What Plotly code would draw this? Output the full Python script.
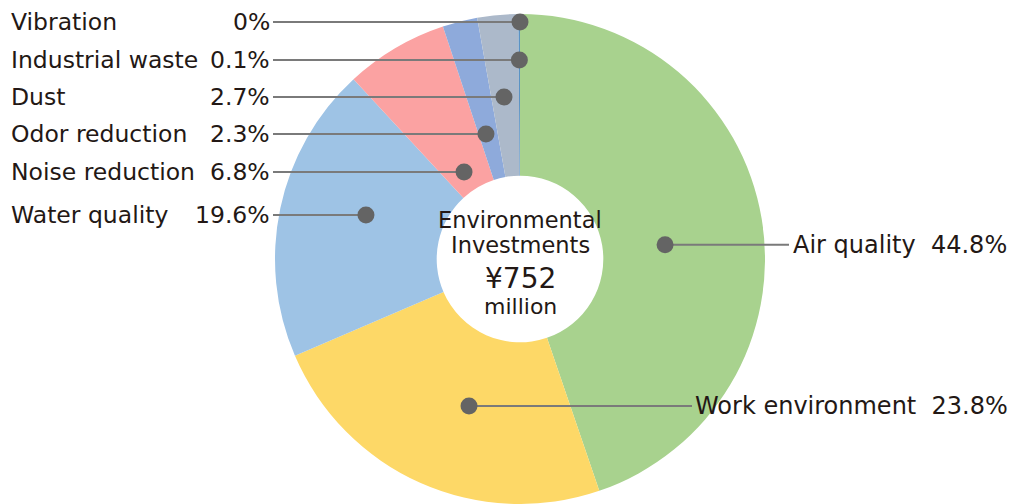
import math
import plotly.graph_objects as go

# ---------------- data ----------------
categories = ["Air quality", "Work environment", "Water quality", "Noise reduction",
              "Odor reduction", "Dust", "Industrial waste", "Vibration"]
shares = [44.8, 23.8, 19.6, 6.8, 2.3, 2.7, 0.1, 0]
colors = ["#A8D28E", "#FDD867", "#9EC3E5", "#FBA2A2", "#8EAADB", "#ACB9CA", "#5B93C4", "#5B93C4"]
center_lines = ["Environmental", "Investments", "¥752", "million"]

# ---------------- layout / style ----------------
W, H = 1014, 504
CX, CY, R = 520, 259, 245          # pie centre & radius in pixels
HOLE = 0.34
FONT = "DejaVu Sans"
TXT = "#231815"
LINE_C = "#7A7A7A"
DOT_C = "#646464"
DOT_R = 8.5

# where the leader dot sits: fraction across the slice's angle, fraction of radius
dot_frac = [0.524, 0.444, 0.557, 0.41, 0.377, 0.456, 0.5, 0.5]
dot_rad = [0.595, 0.635, 0.654, 0.422, 0.529, 0.664, 0.812, 0.967]
side = ["right", "right", "left", "left", "left", "left", "left", "left"]
right_label_x = {0: 791, 1: 693}
right_line_end = {0: 789, 1: 692}
LEFT_NAME_X, LEFT_PCT_X, LEFT_LINE_X = 9, 272, 273
LEFT_SIZE, RIGHT_SIZE = 23.5, 24

fig = go.Figure()
fig.add_trace(go.Pie(
    labels=categories, values=shares, sort=False, direction="clockwise", rotation=0,
    hole=HOLE, textinfo="none", hoverinfo="skip", showlegend=False,
    marker=dict(colors=colors, line=dict(width=0)),
    domain=dict(x=[(CX - R) / W, (CX + R) / W], y=[(H - CY - R) / H, (H - CY + R) / H]),
))

total = sum(shares)
px = lambda x: x / W
py = lambda y: 1 - y / H

shapes, annotations = [], []
cum = 0.0
dots = []
for i, (name, v) in enumerate(zip(categories, shares)):
    a0 = cum / total * 360
    cum += v
    a1 = cum / total * 360
    ang = math.radians(a0 + dot_frac[i] * (a1 - a0))
    r = dot_rad[i] * R
    dx = CX + r * math.sin(ang)
    dy = CY - r * math.cos(ang)
    pct = f"{v:g}%"
    if side[i] == "left":
        shapes.append(dict(type="line", xref="paper", yref="paper",
                           x0=px(LEFT_LINE_X), x1=px(dx), y0=py(dy), y1=py(dy),
                           line=dict(color=LINE_C, width=2)))
        annotations.append(dict(x=px(LEFT_NAME_X), y=py(dy), xref="paper", yref="paper",
                                text=name, showarrow=False, xanchor="left", yanchor="middle",
                                font=dict(family=FONT, size=LEFT_SIZE, color=TXT)))
        annotations.append(dict(x=px(LEFT_PCT_X), y=py(dy), xref="paper", yref="paper",
                                text=pct, showarrow=False, xanchor="right", yanchor="middle",
                                font=dict(family=FONT, size=LEFT_SIZE, color=TXT)))
    else:
        shapes.append(dict(type="line", xref="paper", yref="paper",
                           x0=px(dx), x1=px(right_line_end[i]), y0=py(dy), y1=py(dy),
                           line=dict(color=LINE_C, width=2)))
        annotations.append(dict(x=px(right_label_x[i]), y=py(dy), xref="paper", yref="paper",
                                text=f"{name}  {pct}", showarrow=False, xanchor="left",
                                yanchor="middle", font=dict(family=FONT, size=RIGHT_SIZE, color=TXT)))
    dots.append((dx, dy))

for dx, dy in dots:
    shapes.append(dict(type="circle", xref="paper", yref="paper",
                       x0=px(dx - DOT_R), x1=px(dx + DOT_R),
                       y0=py(dy + DOT_R), y1=py(dy - DOT_R),
                       fillcolor=DOT_C, line=dict(width=0)))

center_y = [220, 245, 278, 306]
center_size = [22.5, 22.5, 28, 22]
for t, yy, sz in zip(center_lines, center_y, center_size):
    annotations.append(dict(x=px(CX), y=py(yy), xref="paper", yref="paper", text=t,
                            showarrow=False, xanchor="center", yanchor="middle",
                            font=dict(family=FONT, size=sz, color=TXT)))

fig.update_layout(
    width=W, height=H, margin=dict(l=0, r=0, t=0, b=0),
    paper_bgcolor="white", plot_bgcolor="white",
    shapes=shapes, annotations=annotations,
)
fig.write_html("out.html")
